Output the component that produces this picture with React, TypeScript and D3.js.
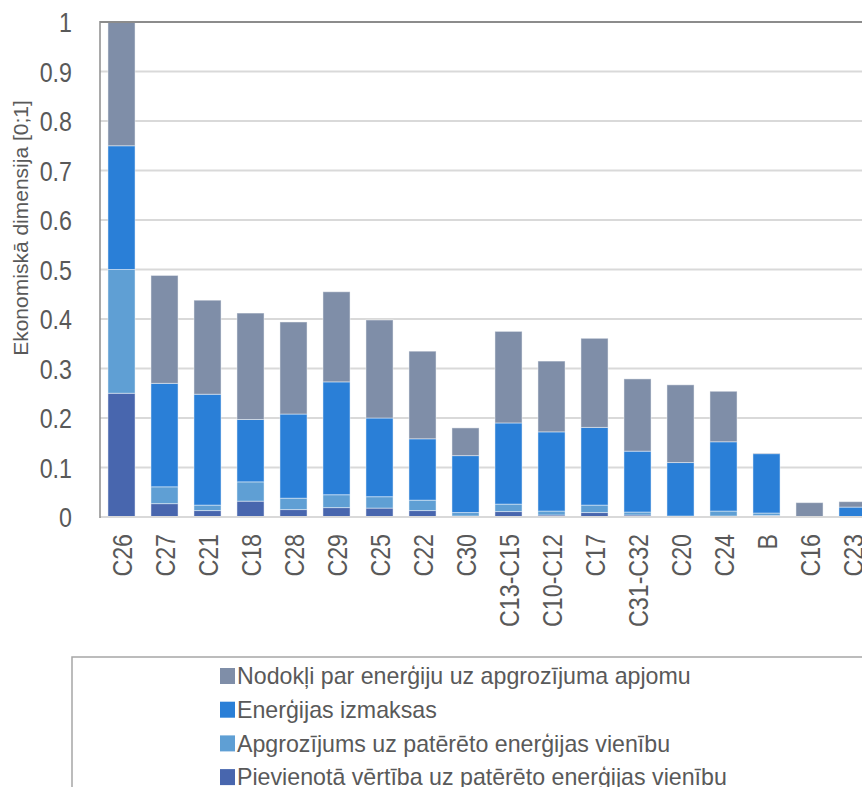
import React from "react";
import * as d3 from "d3";

const categories = ["C26", "C27", "C21", "C18", "C28", "C29", "C25", "C22", "C30", "C13-C15", "C10-C12", "C17", "C31-C32", "C20", "C24", "B", "C16", "C23"];

// Stacked from the bottom up
const pievienota = [0.25, 0.027, 0.013, 0.032, 0.015, 0.019, 0.018, 0.013, 0.002, 0.011, 0.004, 0.009, 0.004, 0.001, 0.002, 0.003, 0, 0.001];
const apgrozijums = [0.25, 0.034, 0.011, 0.039, 0.023, 0.026, 0.023, 0.021, 0.007, 0.015, 0.008, 0.015, 0.006, 0.001, 0.01, 0.005, 0, 0];
const izmaksas = [0.25, 0.209, 0.224, 0.126, 0.17, 0.228, 0.159, 0.124, 0.115, 0.164, 0.16, 0.157, 0.123, 0.108, 0.14, 0.12, 0, 0.019];
const nodokli = [0.25, 0.218, 0.19, 0.215, 0.186, 0.182, 0.198, 0.177, 0.056, 0.185, 0.143, 0.18, 0.146, 0.157, 0.102, 0.001, 0.029, 0.011];

const yTicks = [0, 0.1, 0.2, 0.3, 0.4, 0.5, 0.6, 0.7, 0.8, 0.9, 1];

const seriesNames = [
  "Pievienotā vērtība uz patērēto enerģijas vienību",
  "Apgrozījums uz patērēto enerģijas vienību",
  "Enerģijas izmaksas",
  "Nodokļi par enerģiju uz apgrozījuma apjomu",
];
const seriesColors = ["#4866ae", "#5f9fd4", "#2a7fd7", "#7f8ea8"];

const FONT = "'Liberation Sans', Arial, sans-serif";
const TEXT = "#595959";
// horizontal condensing for the narrow axis lettering
const NARROW = 0.83;

export default function App() {
  const W = 862;
  const H = 787;
  const left = 100;
  const top = 22;
  const bottom = 517;

  const x = d3.scaleBand<string>().domain(categories).range([left, 874]).paddingInner(0.37).paddingOuter(0.185);
  const y = d3.scaleLinear().domain([0, 1]).range([bottom, top]);

  const rows = categories.map((c, i) => ({
    cat: c,
    s0: pievienota[i],
    s1: apgrozijums[i],
    s2: izmaksas[i],
    s3: nodokli[i],
  }));
  const stack = d3.stack<any>().keys(["s0", "s1", "s2", "s3"]);
  const layers = stack(rows);

  const legendOrder = [3, 2, 1, 0];

  return (
    <svg width={W} height={H} style={{ position: "absolute", left: 0, top: 0, background: "#fff" }} fontFamily={FONT}>
      {/* gridlines */}
      {yTicks.slice(1, -1).map((t) => (
        <line key={t} x1={left} x2={W} y1={y(t)} y2={y(t)} stroke="#d9d9d9" strokeWidth={2} />
      ))}
      {/* bars */}
      {layers.map((layer, li) => (
        <g key={li} fill={seriesColors[li]}>
          {layer.map((d, i) => {
            const h = y(d[0]) - y(d[1]);
            if (h <= 0) return null;
            return (
              <rect
                key={i}
                x={x(categories[i])!}
                y={y(d[1])}
                width={x.bandwidth()}
                height={h}
                stroke="#ffffff"
                strokeOpacity={0.45}
                strokeWidth={1}
              />
            );
          })}
        </g>
      ))}
      {/* axes */}
      <line x1={left} x2={W} y1={y(1)} y2={y(1)} stroke="#8c8c8c" strokeWidth={2} />
      <line x1={left} x2={W} y1={y(0)} y2={y(0)} stroke="#d9d9d9" strokeWidth={2} />
      <line x1={left} x2={left} y1={y(1) - 1} y2={y(0) + 1} stroke="#8c8c8c" strokeWidth={1.5} />
      {yTicks.map((t) => (
        <text
          key={t}
          transform={`translate(72,${y(t)}) scale(${NARROW},1)`}
          dy="0.36em"
          textAnchor="end"
          fontSize={28}
          fill={TEXT}
        >
          {d3.format("~g")(t)}
        </text>
      ))}
      <text transform={`translate(28,228) rotate(-90)`} textAnchor="middle" fontSize={21} fill={TEXT}>
        Ekonomiskā dimensija [0;1]
      </text>
      {categories.map((c) => (
        <text
          key={c}
          transform={`translate(${x(c)! + x.bandwidth() / 2},534) rotate(-90) scale(${NARROW},1)`}
          textAnchor="end"
          dy="0.36em"
          fontSize={28}
          fill={TEXT}
        >
          {c}
        </text>
      ))}
      {/* legend */}
      <rect x={72} y={657} width={W} height={200} fill="none" stroke="#a6a6a6" strokeWidth={1.5} />
      {legendOrder.map((si, k) => {
        const cy = 676 + k * 33.7;
        return (
          <g key={si}>
            <rect x={220} y={cy - 8} width={15} height={16} fill={seriesColors[si]} />
            <text x={237} y={cy} dy="0.36em" fontSize={23.2} fill={TEXT}>
              {seriesNames[si]}
            </text>
          </g>
        );
      })}
    </svg>
  );
}
